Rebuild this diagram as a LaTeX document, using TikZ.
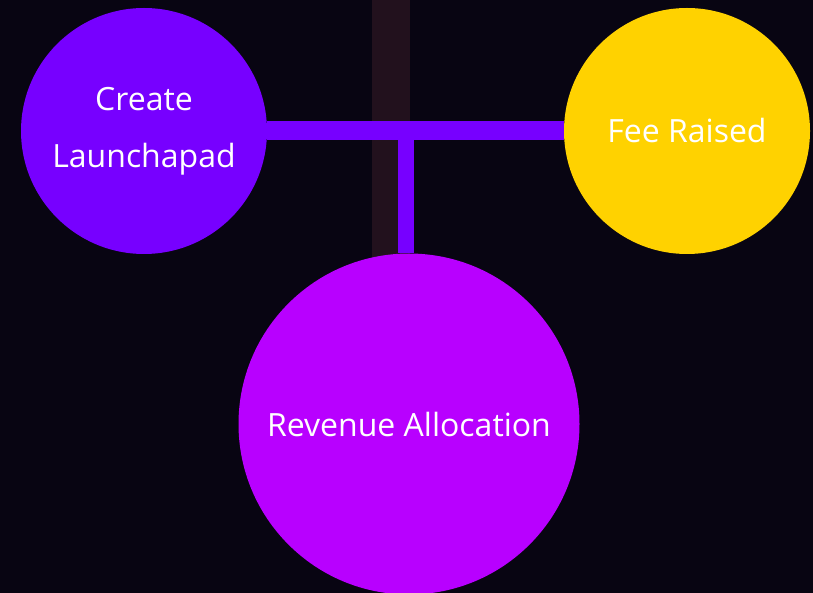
\documentclass[tikz,border=0pt]{standalone}
\usepackage{fontspec}
\setmainfont{Open Sans}
\usetikzlibrary{positioning,shapes,calc,backgrounds}
\usepackage{xcolor}
\definecolor{LaunchPurple}{rgb}{0.4666667,0.0000000,1.0000000}
\definecolor{FeeYellow}{rgb}{1.0000000,0.8235294,0.0000000}
\definecolor{RevenueMagenta}{rgb}{0.7215686,0.0000000,1.0000000}
\definecolor{NightBack}{rgb}{0.0313725,0.0196078,0.0705882}
\definecolor{ColumnTone}{rgb}{0.1607843,0.0784314,0.1254902}

\begin{document}
\begin{tikzpicture}[x=1pt, y=-1pt,
    stage/.style={circle, inner sep=0pt, text=white, align=center,
      font=\fontsize{32}{57}\selectfont}]
  \clip (0, 0) rectangle (813, 593);

  \node[stage, minimum size=246pt, fill=LaunchPurple] (n00) at (144, 131) {Create\\Launchapad};
  \node[stage, minimum size=246pt, fill=FeeYellow] (n01) at (687, 131) {Fee Raised};
  \node[stage, minimum size=341pt, fill=RevenueMagenta] (n02) at (409, 424) {Revenue Allocation};
  \coordinate (j0) at (406, 125.5);

  \begin{scope}[on background layer]
    \fill[NightBack] (0, 0) rectangle (813, 593);
    \fill[ColumnTone, opacity=0.8] (372, 0) rectangle (410, 260);
    \draw[-, line width=19pt, LaunchPurple] (n00.east) -- (n01.west);
    \draw[-, line width=16pt, LaunchPurple] (j0) -- (j0 |- n02.north);
  \end{scope}
\end{tikzpicture}
\end{document}
